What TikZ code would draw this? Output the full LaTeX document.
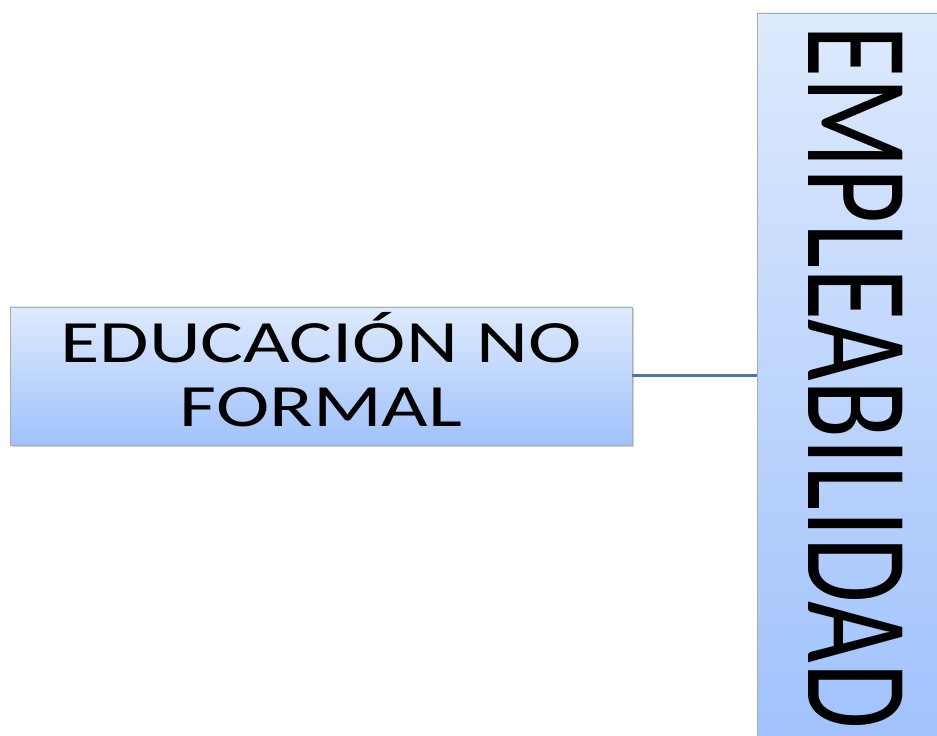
\documentclass[tikz,border=0pt]{standalone}
\usepackage{fontspec}
\usepackage{graphicx}
\usepackage{tikz}
\usetikzlibrary{shadows}
\newfontfamily\wideFont[FakeStretch=1.34]{Carlito}
\newfontfamily\tallFont[FakeStretch=0.725]{Carlito}
\definecolor{boxTop}{RGB}{222,234,253}
\definecolor{boxBottom}{RGB}{160,194,252}
\definecolor{linkBlue}{RGB}{74,118,170}

\begin{document}
\begin{tikzpicture}[x=1pt,y=1pt,
	bluebox/.style={draw=gray!65, line width=0.8pt, top color=boxTop, bottom color=boxBottom,
		inner sep=0pt, drop shadow={shadow xshift=2pt, shadow yshift=-2pt, fill=gray!60, opacity=0.6}},
	link/.style={draw=linkBlue, line width=3pt}]
\useasboundingbox (0,0) rectangle (937,736);
\clip (0,0) rectangle (937,736);
%\node[bluebox] (edu) at (321,360) {EDUCACIÓN NO FORMAL};
\node[bluebox, minimum width=622, minimum height=138, align=center,
	font=\wideFont\fontsize{60}{64}\selectfont] (edu) at (321,360) {EDUCACIÓN NO\\\raisebox{0pt}[\height][14pt]{FORMAL}};
\node[bluebox, minimum width=198, minimum height=728,
	font=\tallFont\fontsize{147}{150}\selectfont] (empl) at (856,359) {\rotatebox{-90}{EMPLEABILIDAD}};
\path[link]
(edu.east) -- (edu.east -| empl.west)
;
\end{tikzpicture}
\end{document}
